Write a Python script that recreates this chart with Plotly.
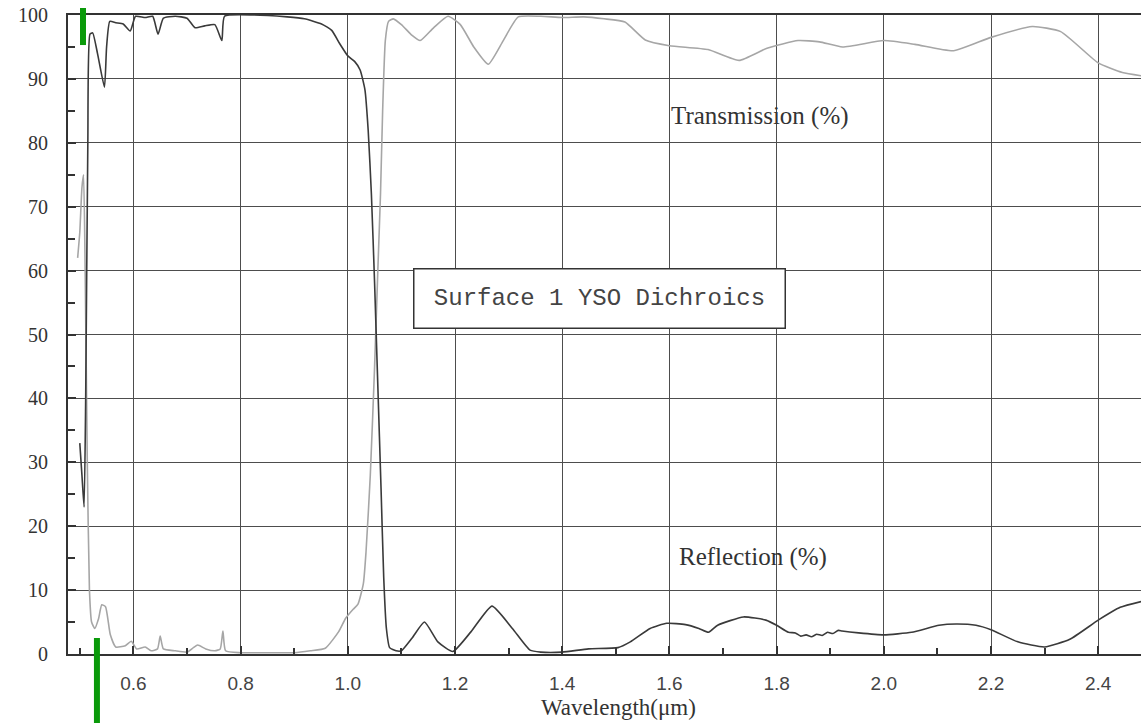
import plotly.graph_objects as go

# Transmission (grey curve)
t_wl = [0.496, 0.500, 0.504, 0.507, 0.510, 0.514, 0.518, 0.522, 0.528, 0.535, 0.541, 0.548, 0.557, 0.567,
        0.585, 0.596, 0.606, 0.622, 0.633, 0.645, 0.650, 0.656, 0.678, 0.700, 0.712, 0.720, 0.735, 0.752,
        0.762, 0.767, 0.772, 0.800, 0.850, 0.900, 0.930, 0.958, 0.983, 0.996, 1.010, 1.019, 1.029, 1.034,
        1.042, 1.050, 1.056, 1.061, 1.065, 1.070, 1.076, 1.085, 1.100, 1.120, 1.135, 1.160, 1.187, 1.210,
        1.235, 1.262, 1.290, 1.318, 1.360, 1.400, 1.440, 1.478, 1.517, 1.555, 1.600, 1.672, 1.730, 1.782,
        1.840, 1.880, 1.923, 2.000, 2.058, 2.130, 2.200, 2.277, 2.330, 2.400, 2.445, 2.480]
t_val = [62, 66, 73, 75, 60, 30, 10, 5, 4, 5.5, 7.7, 7.4, 3, 1.1,
         1.3, 2, 0.8, 1.1, 0.5, 0.8, 2.8, 0.8, 0.5, 0.3, 1.0, 1.4, 0.8, 0.5,
         0.8, 3.6, 0.5, 0.2, 0.2, 0.2, 0.5, 0.9, 3.5, 5.6, 7.0, 7.8, 11, 16,
         28, 45, 60, 72, 85, 96, 99, 99.4, 98.5, 96.8, 96, 98, 99.8, 98.5,
         95, 92.3, 96, 99.7, 99.8, 99.6, 99.7, 99.4, 98.9, 96.1, 95.2, 94.6, 92.9, 94.8,
         96, 95.8, 95, 96, 95.4, 94.4, 96.5, 98.2, 97.4, 92.5, 91, 90.5]

# Reflection (dark curve)
r_wl = [0.500, 0.504, 0.508, 0.511, 0.515, 0.519, 0.524, 0.533, 0.546, 0.550, 0.556, 0.567, 0.581,
        0.594, 0.604, 0.622, 0.636, 0.646, 0.656, 0.678, 0.700, 0.715, 0.733, 0.752, 0.765, 0.770,
        0.825, 0.887, 0.919, 0.951, 0.970, 0.985, 1.000, 1.013, 1.023, 1.032, 1.038, 1.044, 1.050,
        1.056, 1.062, 1.067, 1.072, 1.078, 1.090, 1.100, 1.120, 1.143, 1.168, 1.196, 1.230, 1.269,
        1.307, 1.340, 1.360, 1.400, 1.449, 1.504, 1.527, 1.564, 1.595, 1.630, 1.655, 1.673, 1.690,
        1.738, 1.780, 1.800, 1.822, 1.835, 1.845, 1.855, 1.865, 1.875, 1.885, 1.895, 1.905, 1.915,
        1.922, 1.953, 2.000, 2.052, 2.103, 2.135, 2.172, 2.200, 2.250, 2.300, 2.347, 2.400, 2.441, 2.480]
r_val = [33, 28, 23, 40, 80, 97, 97.2, 94, 88.7, 95, 99, 98.8, 98.6,
         97.5, 99.8, 99.6, 99.8, 97, 99.5, 99.8, 99.5, 98, 98.3, 98.5, 96, 99.8,
         100, 99.7, 99.4, 98.6, 97.6, 95.5, 93.6, 92.7, 91.4, 88.3, 82, 72, 58,
         42, 26, 12, 4, 1, 0.5, 0.5, 2.5, 5, 1.9, 0.4, 3.5, 7.5,
         4, 0.6, 0.3, 0.3, 0.8, 1.0, 1.9, 4, 4.8, 4.6, 4.0, 3.4, 4.5,
         5.8, 5.3, 4.5, 3.4, 3.3, 2.8, 3.0, 2.7, 3.1, 2.9, 3.4, 3.2, 3.7,
         3.6, 3.3, 3.0, 3.4, 4.5, 4.7, 4.5, 3.8, 1.9, 1.1, 2.3, 5.3, 7.3, 8.2]

x_ticks = [0.6, 0.8, 1.0, 1.2, 1.4, 1.6, 1.8, 2.0, 2.2, 2.4]
y_ticks = [0, 10, 20, 30, 40, 50, 60, 70, 80, 90, 100]
marker_wl = [0.506, 0.532]

GRID = "#4d4d4d"
TXT = "#333333"

fig = go.Figure()
fig.add_trace(go.Scatter(x=t_wl, y=t_val, mode="lines", name="Transmission (%)",
                         line=dict(color="#a6a6a6", width=1.6, shape="spline", smoothing=0.5)))
fig.add_trace(go.Scatter(x=r_wl, y=r_val, mode="lines", name="Reflection (%)",
                         line=dict(color="#3a3a3a", width=1.6, shape="spline", smoothing=0.5)))

fig.update_layout(
    width=1141, height=723,
    margin=dict(l=68, r=0, t=15, b=69),
    paper_bgcolor="white", plot_bgcolor="white",
    showlegend=False,
    xaxis=dict(range=[0.478, 2.4798], tickvals=x_ticks, ticktext=[f"{v:.1f}" for v in x_ticks],
               showgrid=True, gridcolor=GRID, gridwidth=1.3,
               showline=True, linecolor="#333333", linewidth=2, mirror=True,
               ticks="inside", ticklen=8, tickcolor="#333333", tickwidth=1.5,
               minor=dict(dtick=0.1, tick0=0.5, ticks="inside", ticklen=6, tickcolor="#333333", showgrid=False),
               ticklabelstandoff=11, zeroline=False,
               tickfont=dict(family="Liberation Sans", size=19, color="#444444")),
    yaxis=dict(range=[0, 100], tickvals=y_ticks,
               showgrid=True, gridcolor=GRID, gridwidth=1.3,
               showline=True, linecolor="#333333", linewidth=2, mirror=False,
               ticks="inside", ticklen=8, tickcolor="#333333", tickwidth=1.5,
               minor=dict(dtick=5, ticks="inside", ticklen=7, tickcolor="#333333", showgrid=False),
               ticklabelstandoff=14, zeroline=False,
               tickfont=dict(family="Liberation Serif", size=20, color=TXT)),
)

fig.add_annotation(x=1.769, y=84.2, xref="x", yref="y", text="Transmission (%)", showarrow=False,
                   font=dict(family="Liberation Serif", size=25, color=TXT))
fig.add_annotation(x=1.756, y=15.2, xref="x", yref="y", text="Reflection (%)", showarrow=False,
                   font=dict(family="Liberation Serif", size=25, color=TXT))
fig.add_annotation(x=1.469, y=55.6, xref="x", yref="y", text="Surface 1 YSO Dichroics", showarrow=False,
                   font=dict(family="Liberation Mono", size=24, color="#444444"),
                   bgcolor="white", bordercolor="#333333", borderwidth=1.5, borderpad=2,
                   width=366, height=54)
fig.add_annotation(x=0.5126, y=-0.0845, xref="paper", yref="paper", text="Wavelength(\u03bcm)",
                   showarrow=False, yanchor="middle",
                   font=dict(family="Liberation Serif", size=23, color=TXT))

fig.add_shape(type="line", xref="x", yref="paper", x0=marker_wl[0], x1=marker_wl[0], y0=1.011, y1=0.953,
              line=dict(color="#0a9a0a", width=6))
fig.add_shape(type="line", xref="x", yref="paper", x0=marker_wl[1], x1=marker_wl[1], y0=0.025, y1=-0.108,
              line=dict(color="#0a9a0a", width=6))

fig.write_html("out.html")
